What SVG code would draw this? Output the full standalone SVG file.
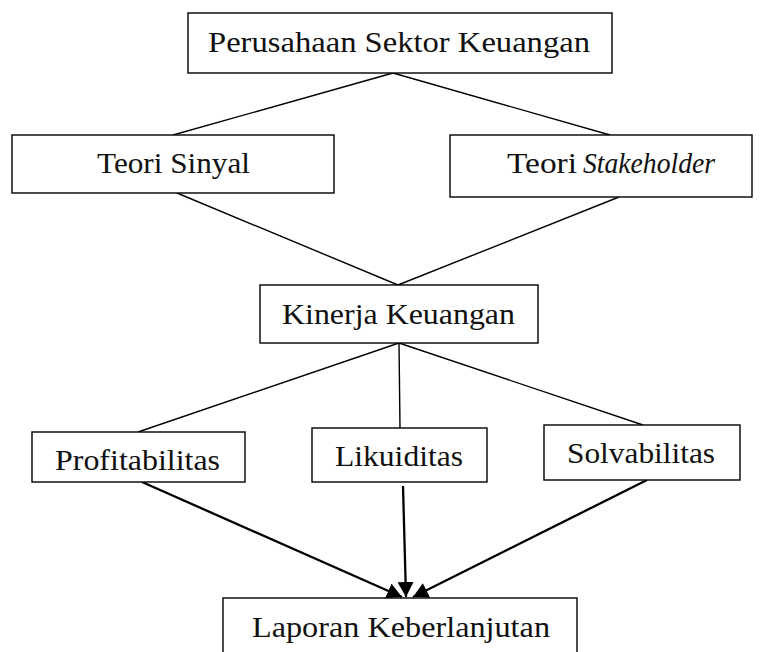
<svg xmlns="http://www.w3.org/2000/svg" width="760" height="652" viewBox="0 0 760 652">
<style>
.box{fill:#fff;stroke:#000;stroke-width:1.4}
.t{font-family:"Liberation Serif","Times New Roman",serif;font-size:30px;fill:#111}
.ln{stroke:#000;stroke-width:1.4;fill:none}
.ar{stroke:#000;stroke-width:2.3;fill:none}
</style>
<defs>
<marker id="ah" markerUnits="userSpaceOnUse" markerWidth="16" markerHeight="16" refX="15" refY="8" orient="auto">
<path d="M0,0 L15,8 L0,16 Z" fill="#000"/>
</marker>
</defs>
<rect width="760" height="652" fill="#fff"/>
<g id="connectors">
<line class="ln" x1="393" y1="73" x2="173" y2="135"/>
<line class="ln" x1="393" y1="73" x2="610" y2="135"/>
<line class="ln" x1="177" y1="193" x2="398" y2="285"/>
<line class="ln" x1="619" y1="197" x2="398" y2="285"/>
<line class="ln" x1="399" y1="343" x2="138" y2="432"/>
<line class="ln" x1="399" y1="343" x2="400" y2="428"/>
<line class="ln" x1="399" y1="343" x2="643" y2="425"/>
<line class="ar" x1="142" y1="482" x2="402" y2="597" marker-end="url(#ah)"/>
<line class="ar" x1="403" y1="486" x2="406" y2="597" marker-end="url(#ah)"/>
<line class="ar" x1="647" y1="480" x2="413" y2="597" marker-end="url(#ah)"/>
</g>
<g id="perusahaan">
<rect class="box" x="188" y="13" width="424" height="60"/>
<text class="t" x="208" y="52" textLength="382" lengthAdjust="spacingAndGlyphs">Perusahaan Sektor Keuangan</text>
</g>
<g id="teori-sinyal">
<rect class="box" x="12" y="135" width="322" height="58"/>
<text class="t" x="97" y="173" textLength="153" lengthAdjust="spacingAndGlyphs">Teori Sinyal</text>
</g>
<g id="teori-stakeholder">
<rect class="box" x="450" y="135" width="302" height="62"/>
<text class="t" x="507" y="173" textLength="70" lengthAdjust="spacingAndGlyphs">Teori</text>
<text class="t" x="583" y="173" font-style="italic" textLength="132" lengthAdjust="spacingAndGlyphs">Stakeholder</text>
</g>
<g id="kinerja">
<rect class="box" x="260" y="285" width="278" height="58"/>
<text class="t" x="282" y="324" textLength="233" lengthAdjust="spacingAndGlyphs">Kinerja Keuangan</text>
</g>
<g id="profitabilitas">
<rect class="box" x="32" y="432" width="213" height="50"/>
<text class="t" x="55" y="470" textLength="165" lengthAdjust="spacingAndGlyphs">Profitabilitas</text>
</g>
<g id="likuiditas">
<rect class="box" x="312" y="428" width="175" height="54"/>
<text class="t" x="335" y="466" textLength="128" lengthAdjust="spacingAndGlyphs">Likuiditas</text>
</g>
<g id="solvabilitas">
<rect class="box" x="544" y="425" width="196" height="55"/>
<text class="t" x="567" y="463" textLength="148" lengthAdjust="spacingAndGlyphs">Solvabilitas</text>
</g>
<g id="laporan">
<rect class="box" x="223" y="598" width="354" height="70"/>
<text class="t" x="252" y="637" textLength="298" lengthAdjust="spacingAndGlyphs">Laporan Keberlanjutan</text>
</g>
</svg>
